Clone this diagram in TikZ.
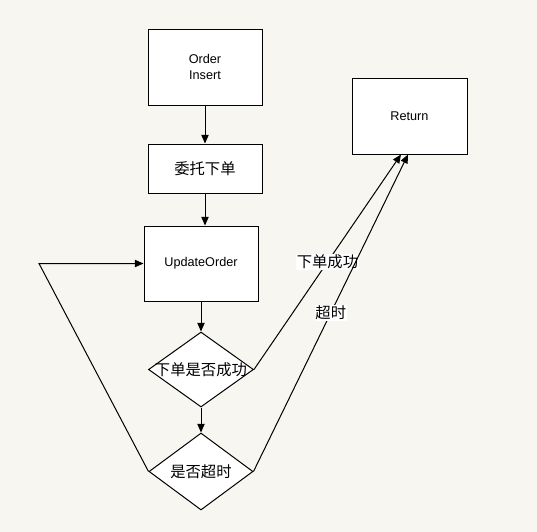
\documentclass[tikz,border=0pt]{standalone}
\usepackage{fontspec}
\setmainfont{Liberation Sans}
\newfontfamily\cjk{Noto Sans CJK SC}
\usetikzlibrary{arrows.meta,shapes.geometric,calc}
\definecolor{paper}{RGB}{248,246,240}

\tikzset{
  stepbox/.style={draw, fill=white, line width=0.75pt, minimum width=85.5pt, inner sep=0pt, font=\fontsize{9.5}{12}\selectfont, align=center},
  testbox/.style={draw, fill=white, line width=0.75pt, shape=diamond, inner sep=0pt, minimum width=78.75pt},
  cjktext/.style={font=\cjk\fontsize{11.5}{13}\selectfont},
  flow/.style={line width=0.75pt, -{Triangle[length=6.5pt,width=5.5pt]}},
  edgelabel/.style={cjktext, fill=white, inner sep=0.5pt}
}

\begin{document}
\begin{tikzpicture}[x=0.75pt,y=0.75pt,yscale=-1,xscale=1]
%set diagram size
\fill [paper] (0,0) rectangle (537,532);
\useasboundingbox (0,0) rectangle (537,532);

%Shape: Rectangle [order insert]
\node [stepbox, minimum height=57pt] (insert) at (205,67) {Order\\Insert};
%Shape: Rectangle [entrust]
\node [stepbox, cjktext, minimum height=36.75pt] (entrust) at (205,168.5) {委托下单};
%Shape: Rectangle [update]
\node [stepbox, minimum height=56.25pt] (update) at (201,263.5) {UpdateOrder};
%Shape: Rectangle [return]
\node [stepbox, minimum width=86.25pt, minimum height=57pt] (ret) at (409.5,116) {Return};

%Shape: Diamond [success test]
\node [testbox, minimum height=56.25pt, label={[cjktext]center:下单是否成功}] (okq) at (201,369.5) {};
%Shape: Diamond [timeout test]
\node [testbox, minimum width=78pt, minimum height=57.75pt, label={[cjktext]center:是否超时}] (timeq) at (201,471.5) {};

\coordinate (loop) at (39,263.5);
\coordinate (in1) at ($(ret.south)+(-8.5,0)$);
\coordinate (in2) at ($(ret.south)+(-1.5,0)$);

%Straight Lines
\draw [flow] (insert) -- (entrust);
\draw [flow] (entrust.south) -- (entrust.south |- update.north);
\draw [flow] (update) -- (okq);
\draw [flow] (okq) -- (timeq);
%Loop back
\draw [flow] (timeq.west) -- (loop) -- (update.west);
%To return
\draw [flow] (okq.east) -- node [edgelabel] {下单成功} (in1);
\draw [flow] (timeq.east) -- node [edgelabel] {超时} (in2);

\end{tikzpicture}
\end{document}
